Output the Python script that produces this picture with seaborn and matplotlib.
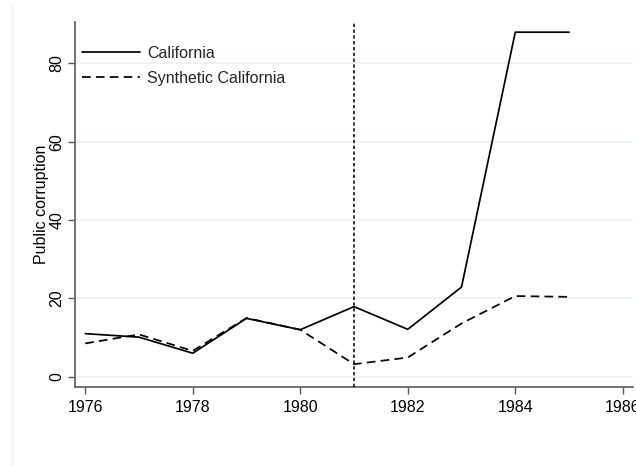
import matplotlib
matplotlib.use("Agg")
import matplotlib.pyplot as plt
from matplotlib.lines import Line2D
import seaborn as sns
import pandas as pd

years = [1976, 1977, 1978, 1979, 1980, 1981, 1982, 1983, 1984, 1985]
california = [11.0, 10.1, 6.0, 14.9, 12.0, 17.9, 12.1, 22.9, 88.0, 88.0]
synthetic = [8.5, 10.8, 6.6, 15.0, 12.0, 3.2, 4.9, 13.6, 20.6, 20.4]
series_names = ["California", "Synthetic California"]
treatment_year = 1981
x_ticks = [1976, 1978, 1980, 1982, 1984, 1986]
y_ticks = [0, 20, 40, 60, 80]

sns.set_theme(style="white")
plt.rcParams['font.family'] = ['Liberation Sans', 'DejaVu Sans']

df = pd.DataFrame({
    "year": years * 2,
    "value": california + synthetic,
    "series": [series_names[0]] * len(years) + [series_names[1]] * len(years),
})

fig = plt.figure(figsize=(6.36, 4.66), dpi=100)
ax = fig.add_axes([75/636, 1-387/466, (633-75)/636, (387-22)/466])

for y in y_ticks:
    ax.axhline(y, color="#eaf1f3", lw=1.2, zorder=0)

sns.lineplot(data=df, x="year", y="value", hue="series", style="series",
             palette={series_names[0]: "black", series_names[1]: "black"},
             dashes={series_names[0]: "", series_names[1]: (5, 3)},
             lw=1.25, ax=ax, legend=False)

ax.axvline(treatment_year, color="black", lw=1.1, linestyle=(0, (2.2, 1.6)), zorder=3)

fs = 11.5
ax.set_xlim(1975.81, 1986.19)
ax.set_ylim(-2.63, 90.6)
ax.set_xticks(x_ticks)
ax.set_yticks(y_ticks)
ax.set_xticklabels([str(t) for t in x_ticks], fontsize=fs, color="black")
ax.set_yticklabels([str(t) for t in y_ticks], fontsize=fs, color="black", rotation=90, va="center")
ax.tick_params(axis="both", direction="out", length=5, width=1, color="#555555", pad=4)
ax.tick_params(axis="y", pad=2.5)
ax.tick_params(axis="x", bottom=True)
ax.tick_params(axis="y", left=True)
ax.set_xlabel("")
ax.set_ylabel("Public corruption", fontsize=fs, color="black", labelpad=0.5)

for side in ["top", "right"]:
    ax.spines[side].set_visible(False)
for side in ["left", "bottom"]:
    ax.spines[side].set_color("#666666")
    ax.spines[side].set_linewidth(1.3)

handles = [Line2D([], [], color="black", lw=1.25),
           Line2D([], [], color="black", lw=1.25, linestyle=(0, (5, 3)))]
ax.legend(handles, series_names, loc="upper left", frameon=False, fontsize=fs,
          handlelength=3.6, handletextpad=0.45, labelspacing=0.65,
          bbox_to_anchor=(0.0, 0.955), borderaxespad=0.05)

fig.add_artist(Line2D([12/636, 12/636], [0, 1-5/466], transform=fig.transFigure,
                      color="#eef3f5", lw=1))

fig.savefig("out.png", dpi=100)
